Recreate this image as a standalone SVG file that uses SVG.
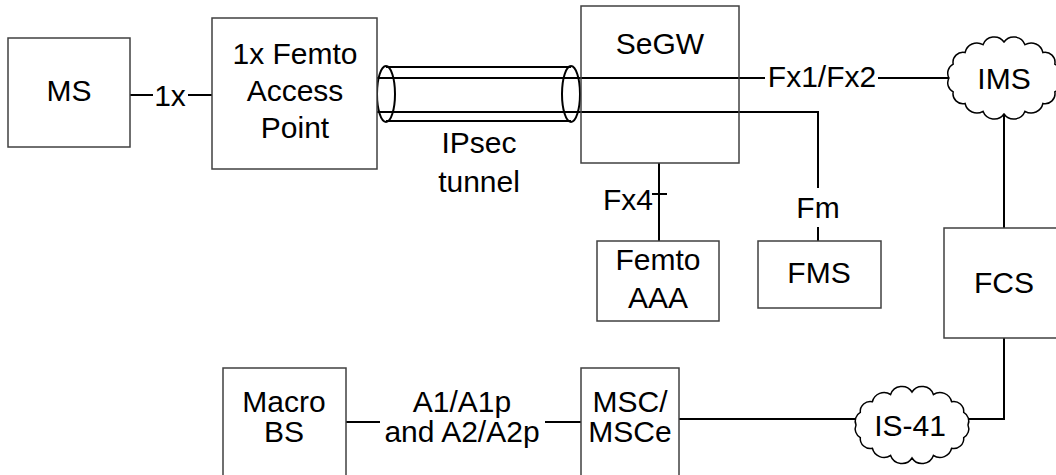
<svg xmlns="http://www.w3.org/2000/svg" width="1056" height="475" viewBox="0 0 1056 475">
<style>
.box{fill:#fff;stroke:#404040;stroke-width:1.5}
.ln{fill:none;stroke:#000;stroke-width:2}
.cloud{fill:#fff;stroke:#000;stroke-width:1.5}
text{font-family:"Liberation Sans",Arial,sans-serif;font-size:30px;fill:#000;text-anchor:middle}
</style>
<rect width="1056" height="475" fill="#fff"/>
<g id="connectors">
<line class="ln" x1="130" y1="95" x2="153" y2="95"/>
<line class="ln" x1="188" y1="95" x2="212" y2="95"/>
<polyline class="ln" points="377,78 765,78"/>
<line class="ln" x1="878" y1="78" x2="949" y2="78"/>
<polyline class="ln" points="377,112 818,112 818,188"/>
<line class="ln" x1="818" y1="227" x2="818" y2="241"/>
<line class="ln" x1="659" y1="163" x2="659" y2="241"/>
<line class="ln" x1="652" y1="194" x2="667" y2="194" stroke-width="1.5"/>
<line class="ln" x1="1004" y1="114" x2="1004" y2="228"/>
<polyline class="ln" points="1004,338 1004,419 968,419"/>
<line class="ln" x1="679" y1="419" x2="856" y2="419"/>
<line class="ln" x1="346" y1="422" x2="380" y2="422"/>
<line class="ln" x1="545" y1="422" x2="581" y2="422"/>
<text x="170" y="106">1x</text>
<text x="822" y="87">Fx1/Fx2</text>
<text x="628" y="210">Fx4</text>
<text x="818" y="218">Fm</text>
<text x="462" y="412">A1/A1p</text>
<text x="462" y="442">and A2/A2p</text>
</g>
<g id="tunnel">
<line class="ln" x1="386" y1="67" x2="571" y2="67"/>
<line class="ln" x1="386" y1="121" x2="571" y2="121"/>
<ellipse cx="386" cy="94" rx="9" ry="28" fill="none" stroke="#000" stroke-width="2"/>
<ellipse cx="571" cy="94" rx="9" ry="28" fill="none" stroke="#000" stroke-width="2"/>
<text x="479" y="153">IPsec</text>
<text x="479" y="192">tunnel</text>
</g>
<g id="ms">
<rect class="box" x="8" y="38" width="122" height="109"/>
<text x="69" y="101">MS</text>
</g>
<g id="fap">
<rect class="box" x="212" y="18" width="165" height="151"/>
<text x="295" y="64">1x Femto</text>
<text x="295" y="101">Access</text>
<text x="295" y="138">Point</text>
</g>
<g id="segw">
<rect class="box" x="581" y="6" width="158" height="157" style="fill:none"/>
<text x="660" y="54">SeGW</text>
</g>
<g id="femto-aaa">
<rect class="box" x="597" y="241" width="122" height="80"/>
<text x="658" y="270">Femto</text>
<text x="658" y="308">AAA</text>
</g>
<g id="fms">
<rect class="box" x="758" y="241" width="123" height="67"/>
<text x="819" y="283">FMS</text>
</g>
<g id="ims">
<path class="cloud" d="M1059,78 A10,10 0 0 1 1054.8,91.8 A10,10 0 0 1 1042.9,103.5 A12,12 0 0 1 1025,111.3 A12,12 0 0 1 1004,114 A12,12 0 0 1 983,111.3 A12,12 0 0 1 965.1,103.5 A10,10 0 0 1 953.2,91.8 A10,10 0 0 1 949,78 A10,10 0 0 1 953.2,64.2 A10,10 0 0 1 965.1,52.5 A12,12 0 0 1 983,44.7 A12,12 0 0 1 1004,42 A12,12 0 0 1 1025,44.7 A12,12 0 0 1 1042.9,52.5 A10,10 0 0 1 1054.8,64.2 A10,10 0 0 1 1059,78 Z"/>
<text x="1004" y="89">IMS</text>
</g>
<g id="fcs">
<rect class="box" x="944" y="228" width="120" height="110"/>
<text x="1004" y="293">FCS</text>
</g>
<g id="is41">
<path class="cloud" d="M968,425 A10,10 0 0 1 963.7,437.6 A10,10 0 0 1 951.6,448.3 A12,12 0 0 1 933.4,455.5 A12,12 0 0 1 912,458 A12,12 0 0 1 890.6,455.5 A12,12 0 0 1 872.4,448.3 A10,10 0 0 1 860.3,437.6 A10,10 0 0 1 856,425 A10,10 0 0 1 860.3,412.4 A10,10 0 0 1 872.4,401.7 A12,12 0 0 1 890.6,394.5 A12,12 0 0 1 912,392 A12,12 0 0 1 933.4,394.5 A12,12 0 0 1 951.6,401.7 A10,10 0 0 1 963.7,412.4 A10,10 0 0 1 968,425 Z"/>
<text x="910" y="436">IS-41</text>
</g>
<g id="macro-bs">
<rect class="box" x="223" y="368" width="123" height="110"/>
<text x="284" y="412">Macro</text>
<text x="284" y="442">BS</text>
</g>
<g id="msc">
<rect class="box" x="581" y="368" width="98" height="110"/>
<text x="630" y="412">MSC/</text>
<text x="630" y="442">MSCe</text>
</g>
</svg>
